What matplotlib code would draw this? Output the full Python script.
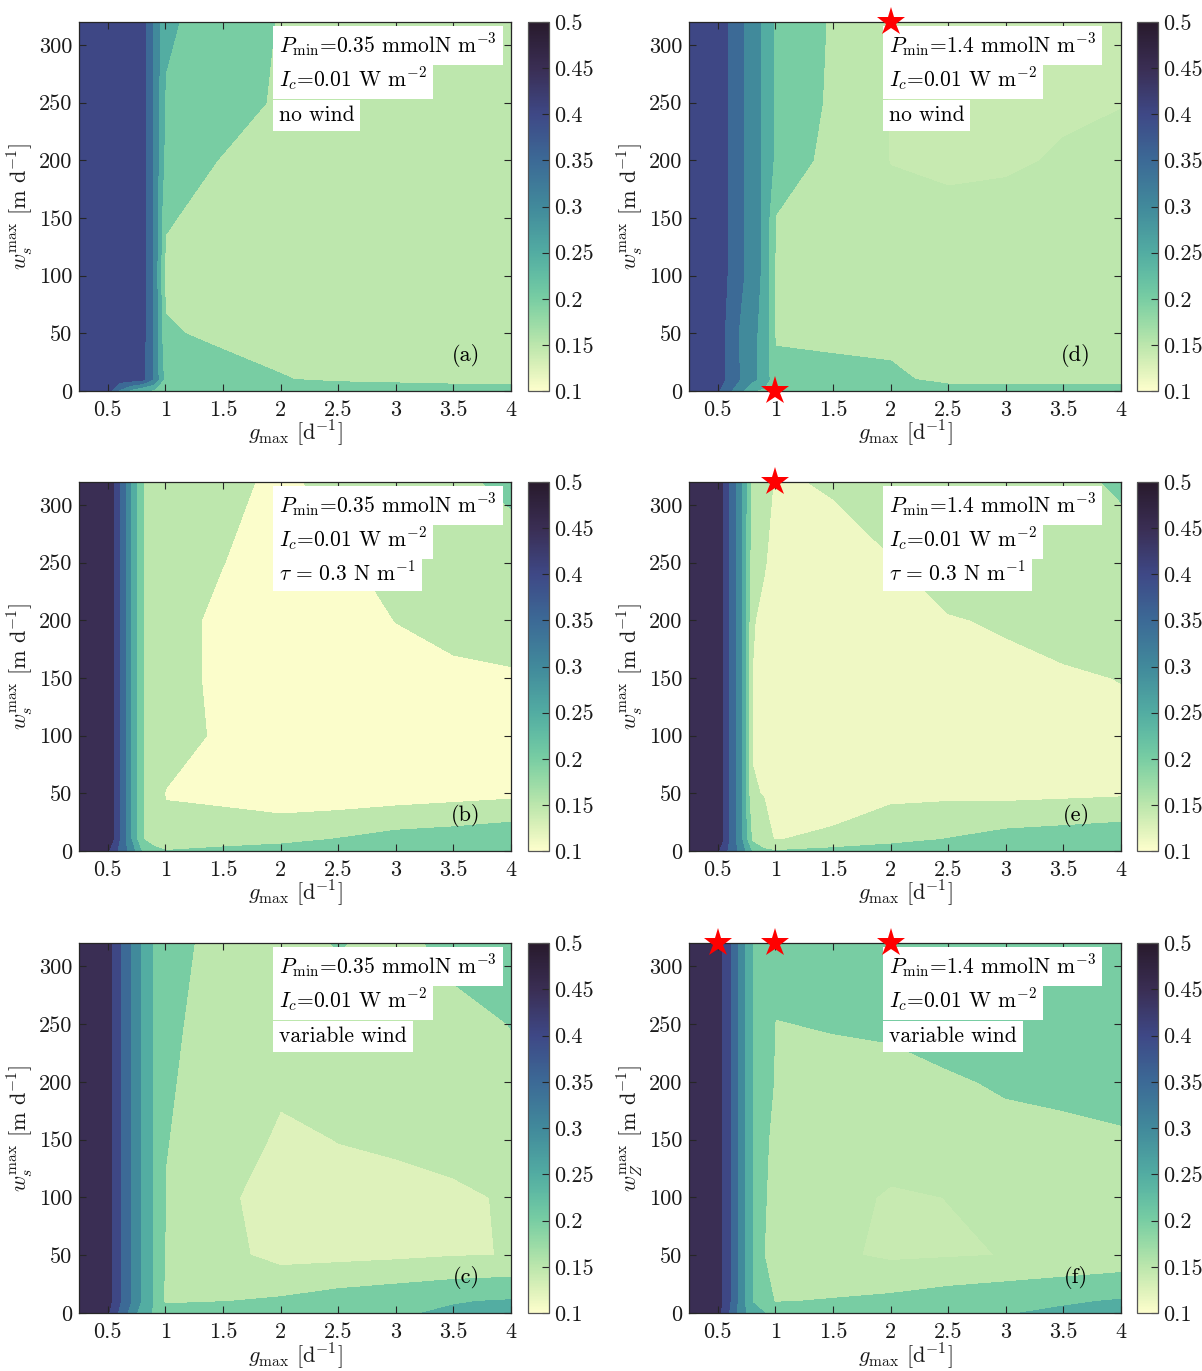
import numpy as np
import matplotlib
matplotlib.use("Agg")
import matplotlib.pyplot as plt
from matplotlib.colors import LinearSegmentedColormap, Normalize
from matplotlib.cm import ScalarMappable

plt.rcParams["font.family"] = ["cmr10", "DejaVu Serif"]
plt.rcParams["mathtext.fontset"] = "cm"
plt.rcParams["axes.formatter.use_mathtext"] = True

# ---- grid of the parameter sweep ----
g_max = [0.25, 0.5, 0.6, 0.7, 0.8, 0.9, 1.0, 1.5, 2.0, 2.5, 3.0, 3.5, 4.0]
w_max = [0, 10, 50, 100, 150, 200, 250, 320]

# rows follow w_max, columns follow g_max
Z_a = [
    [0.43, 0.415, 0.34, 0.28, 0.245, 0.24, 0.24, 0.24, 0.24, 0.24, 0.24, 0.24, 0.24],
    [0.42, 0.42, 0.42, 0.42, 0.41, 0.34, 0.23, 0.222, 0.203, 0.19, 0.183, 0.173, 0.173],
    [0.42, 0.42, 0.42, 0.42, 0.42, 0.34, 0.206, 0.188, 0.18, 0.175, 0.175, 0.17, 0.17],
    [0.42, 0.42, 0.42, 0.42, 0.42, 0.34, 0.188, 0.18, 0.175, 0.175, 0.175, 0.17, 0.17],
    [0.42, 0.42, 0.42, 0.42, 0.42, 0.34, 0.205, 0.18, 0.175, 0.175, 0.175, 0.17, 0.17],
    [0.42, 0.42, 0.42, 0.42, 0.42, 0.34, 0.235, 0.196, 0.18, 0.175, 0.175, 0.17, 0.17],
    [0.42, 0.42, 0.42, 0.42, 0.42, 0.34, 0.2443, 0.23, 0.19, 0.18, 0.175, 0.175, 0.175],
    [0.42, 0.42, 0.42, 0.42, 0.42, 0.34, 0.26, 0.218, 0.198, 0.185, 0.18, 0.18, 0.18],
]
Z_b = [
    [0.49, 0.455, 0.385, 0.33, 0.24, 0.21, 0.202, 0.215, 0.22, 0.23, 0.235, 0.24, 0.245],
    [0.49, 0.493, 0.399, 0.301, 0.202, 0.185, 0.161, 0.172, 0.187, 0.202, 0.219, 0.226, 0.2375],
    [0.49, 0.493, 0.399, 0.301, 0.202, 0.185, 0.148, 0.1406, 0.12, 0.119, 0.124, 0.131, 0.1375],
    [0.49, 0.493, 0.399, 0.301, 0.202, 0.185, 0.175, 0.14, 0.108, 0.11, 0.115, 0.125, 0.13],
    [0.49, 0.493, 0.399, 0.301, 0.202, 0.185, 0.175, 0.135, 0.103, 0.11, 0.125, 0.14, 0.145],
    [0.49, 0.493, 0.399, 0.301, 0.202, 0.185, 0.175, 0.135, 0.11, 0.12, 0.151, 0.165, 0.17],
    [0.49, 0.493, 0.399, 0.301, 0.202, 0.185, 0.175, 0.151, 0.12, 0.14, 0.17, 0.18, 0.18],
    [0.49, 0.493, 0.399, 0.301, 0.202, 0.185, 0.175, 0.17, 0.134, 0.174, 0.18, 0.19, 0.21],
]
Z_c = [
    [0.48, 0.455, 0.39, 0.33, 0.27, 0.245, 0.24, 0.24, 0.24, 0.243, 0.245, 0.2558, 0.265],
    [0.48, 0.47, 0.405, 0.349, 0.29, 0.245, 0.19, 0.199, 0.2074, 0.2243, 0.2357, 0.2475, 0.2538],
    [0.48, 0.47, 0.405, 0.349, 0.29, 0.245, 0.198, 0.165, 0.1333, 0.1358, 0.1405, 0.1475, 0.151],
    [0.48, 0.47, 0.405, 0.349, 0.29, 0.245, 0.199, 0.16, 0.125, 0.135, 0.14, 0.145, 0.153],
    [0.48, 0.47, 0.405, 0.349, 0.29, 0.245, 0.201, 0.185, 0.14, 0.151, 0.155, 0.16, 0.165],
    [0.48, 0.47, 0.405, 0.349, 0.29, 0.245, 0.203, 0.187, 0.16, 0.17, 0.175, 0.18, 0.19],
    [0.48, 0.47, 0.405, 0.349, 0.29, 0.245, 0.21, 0.178, 0.17, 0.175, 0.18, 0.185, 0.201],
    [0.48, 0.47, 0.405, 0.349, 0.29, 0.245, 0.22, 0.18, 0.18, 0.203, 0.185, 0.215, 0.23],
]
Z_d = [
    [0.43, 0.405, 0.355, 0.31, 0.252, 0.24, 0.235, 0.235, 0.235, 0.235, 0.235, 0.235, 0.235],
    [0.43, 0.42, 0.385, 0.345, 0.31, 0.28, 0.213, 0.219, 0.217, 0.177, 0.177, 0.177, 0.177],
    [0.43, 0.42, 0.385, 0.34, 0.31, 0.285, 0.195, 0.185, 0.175, 0.17, 0.168, 0.168, 0.168],
    [0.43, 0.42, 0.395, 0.36, 0.32, 0.29, 0.196, 0.18, 0.17, 0.165, 0.163, 0.163, 0.165],
    [0.43, 0.42, 0.395, 0.36, 0.32, 0.29, 0.198, 0.178, 0.16, 0.155, 0.157, 0.16, 0.163],
    [0.43, 0.42, 0.395, 0.36, 0.32, 0.29, 0.24, 0.179, 0.149, 0.146, 0.147, 0.152, 0.158],
    [0.43, 0.42, 0.395, 0.36, 0.32, 0.29, 0.24, 0.191, 0.148, 0.144, 0.144, 0.147, 0.149],
    [0.43, 0.42, 0.395, 0.36, 0.32, 0.29, 0.24, 0.1945, 0.146, 0.142, 0.142, 0.143, 0.144],
]
Z_e = [
    [0.49, 0.455, 0.385, 0.33, 0.24, 0.21, 0.202, 0.215, 0.22, 0.23, 0.235, 0.24, 0.245],
    [0.49, 0.49, 0.395, 0.31, 0.19, 0.16, 0.148, 0.162, 0.187, 0.2016, 0.2188, 0.226, 0.234],
    [0.49, 0.49, 0.395, 0.31, 0.152, 0.149, 0.125, 0.12, 0.1377, 0.139, 0.1354, 0.139, 0.143],
    [0.49, 0.49, 0.395, 0.31, 0.148, 0.115, 0.112, 0.115, 0.118, 0.12, 0.125, 0.13, 0.14],
    [0.49, 0.49, 0.395, 0.31, 0.149, 0.115, 0.112, 0.115, 0.12, 0.13, 0.143, 0.145, 0.151],
    [0.49, 0.49, 0.395, 0.31, 0.155, 0.135, 0.115, 0.12, 0.135, 0.148, 0.153, 0.165, 0.17],
    [0.49, 0.49, 0.395, 0.31, 0.17, 0.155, 0.13, 0.135, 0.148, 0.165, 0.175, 0.18, 0.185],
    [0.49, 0.49, 0.395, 0.31, 0.18, 0.17, 0.145, 0.154, 0.17, 0.18, 0.185, 0.19, 0.205],
]
Z_f = [
    [0.49, 0.465, 0.395, 0.32, 0.27, 0.252, 0.23, 0.235, 0.24, 0.243, 0.247, 0.2587, 0.265],
    [0.49, 0.475, 0.405, 0.325, 0.248, 0.215, 0.198, 0.203, 0.212, 0.226, 0.236, 0.2442, 0.2543],
    [0.49, 0.475, 0.405, 0.325, 0.248, 0.2005, 0.18, 0.158, 0.142, 0.146, 0.151, 0.16, 0.1674],
    [0.49, 0.475, 0.405, 0.325, 0.248, 0.204, 0.185, 0.165, 0.145, 0.1505, 0.165, 0.175, 0.18],
    [0.49, 0.475, 0.405, 0.325, 0.248, 0.207, 0.19, 0.18, 0.17, 0.18, 0.19, 0.19, 0.195],
    [0.49, 0.475, 0.405, 0.325, 0.248, 0.21, 0.198, 0.19, 0.19, 0.196, 0.204, 0.21, 0.215],
    [0.49, 0.475, 0.405, 0.325, 0.248, 0.215, 0.199, 0.202, 0.205, 0.215, 0.22, 0.225, 0.23],
    [0.49, 0.475, 0.405, 0.325, 0.248, 0.22, 0.215, 0.215, 0.22, 0.225, 0.23, 0.235, 0.24],
]

# optimal (g_max, w_max) combinations marked with stars
star_d_g, star_d_w = [2.0, 1.0], [320, 0]
star_e_g, star_e_w = [1.0], [320]
star_f_g, star_f_w = [0.5, 1.0, 2.0], [320, 320, 320]

contour_levels = [0.15, 0.20, 0.25, 0.30, 0.35, 0.40, 0.45]
cbar_ticks = [0.1, 0.15, 0.2, 0.25, 0.3, 0.35, 0.4, 0.45, 0.5]
cbar_ticklabels = ["0.1", "0.15", "0.2", "0.25", "0.3", "0.35", "0.4", "0.45", "0.5"]
x_ticks = [0.5, 1, 1.5, 2, 2.5, 3, 3.5, 4]
x_ticklabels = ["0.5", "1", "1.5", "2", "2.5", "3", "3.5", "4"]
y_ticks = [0, 50, 100, 150, 200, 250, 300]
y_ticklabels = ["0", "50", "100", "150", "200", "250", "300"]

# deep-ocean style colormap, light (low) to dark (high)
cmap_vals = [0.100, 0.125, 0.150, 0.175, 0.200, 0.225, 0.250, 0.300, 0.350, 0.400, 0.450, 0.500]
cmap_rgb = [(253, 254, 204), (220, 241, 186), (187, 230, 172), (152, 218, 166),
            (120, 205, 163), (99, 189, 163), (82, 172, 162), (65, 137, 155),
            (60, 106, 150), (62, 72, 134), (58, 46, 84), (40, 26, 44)]
vmin, vmax = 0.1, 0.5
cmap = LinearSegmentedColormap.from_list(
    "deep", [((v - vmin) / (vmax - vmin), tuple(c / 255 for c in rgb))
             for v, rgb in zip(cmap_vals, cmap_rgb)], N=256)
norm = Normalize(vmin=vmin, vmax=vmax)

W, H = 1202, 1371
fig = plt.figure(figsize=(W / 100, H / 100), dpi=100)

row_top = [22, 482, 943]
row_bot = [391, 851, 1313]
col_left = [79, 689]
col_right = [511, 1121]
cbar_left = [528, 1137]
cbar_w = 21

tau_txt = r"$\tau\,=\,0.3$ N m$^{-1}$"
panels = [
    ("(a)", Z_a, 0, 0, "0.35", "no wind", [], [], r"$w_s^{\rm max}$ [m d$^{-1}$]"),
    ("(b)", Z_b, 1, 0, "0.35", tau_txt, [], [], r"$w_s^{\rm max}$ [m d$^{-1}$]"),
    ("(c)", Z_c, 2, 0, "0.35", "variable wind", [], [], r"$w_s^{\rm max}$ [m d$^{-1}$]"),
    ("(d)", Z_d, 0, 1, "1.4", "no wind", star_d_g, star_d_w, r"$w_s^{\rm max}$ [m d$^{-1}$]"),
    ("(e)", Z_e, 1, 1, "1.4", tau_txt, star_e_g, star_e_w, r"$w_s^{\rm max}$ [m d$^{-1}$]"),
    ("(f)", Z_f, 2, 1, "1.4", "variable wind", star_f_g, star_f_w, r"$w_Z^{\rm max}$ [m d$^{-1}$]"),
]

spine_col = "#262626"
fs = 16
fs_box = 15.5

for tag, Z, r, c, pmin, third, sg, sw, ylab in panels:
    Z = np.array(Z)
    x0, x1 = col_left[c], col_right[c]
    y0, y1 = row_top[r], row_bot[r]
    ax = fig.add_axes([x0 / W, 1 - y1 / H, (x1 - x0) / W, (y1 - y0) / H])

    # region under the lowest level takes the colour of the field minimum
    zmin = Z.min()
    levels = [0.0] + contour_levels + [0.5]
    colors = [cmap(norm(max(zmin, 0.1)))] + [cmap(norm(l)) for l in contour_levels]
    ax.contourf(g_max, w_max, Z, levels=levels, colors=colors, antialiased=False)

    ax.set_xlim(0.25, 4)
    ax.set_ylim(0, 320)
    ax.set_xticks(x_ticks)
    ax.set_xticklabels(x_ticklabels)
    ax.set_yticks(y_ticks)
    ax.set_yticklabels(y_ticklabels)
    ax.tick_params(direction="in", top=True, right=True, length=5, width=0.8,
                   color=spine_col, labelsize=fs, labelcolor="#1a1a1a")
    ax.tick_params(axis="x", pad=7)
    ax.tick_params(axis="y", pad=5)
    for sp in ax.spines.values():
        sp.set_color(spine_col)
        sp.set_linewidth(0.9)
        sp.set_zorder(5)

    ax.set_xlabel(r"$g_{\rm max}$ [d$^{-1}$]", fontsize=fs, color="#1a1a1a")
    ax.xaxis.set_label_coords(0.5, -0.075)
    ax.set_ylabel(ylab, fontsize=fs, color="#1a1a1a")
    ax.yaxis.set_label_coords(-0.102, 0.5)

    box = dict(boxstyle="square,pad=0.27", fc="white", ec="none")
    ax.text(0.463, 0.916, r"$P_{\rm min}$=" + pmin + r" mmolN m$^{-3}$",
            transform=ax.transAxes, fontsize=fs_box, ha="left", va="baseline", bbox=box, zorder=6)
    ax.text(0.463, 0.824, r"$I_c$=0.01 W m$^{-2}$",
            transform=ax.transAxes, fontsize=fs_box, ha="left", va="baseline", bbox=box, zorder=6)
    ax.text(0.463, 0.732, third,
            transform=ax.transAxes, fontsize=fs_box, ha="left", va="baseline", bbox=box, zorder=6)
    ax.text(0.896, 0.095, tag, transform=ax.transAxes, fontsize=fs,
            ha="center", va="center", zorder=6)

    if sg:
        ax.plot(sg, sw, linestyle="none", marker="*", markersize=21, color="red",
                markeredgewidth=0, clip_on=False, zorder=10)

    cax = fig.add_axes([cbar_left[c] / W, 1 - y1 / H, cbar_w / W, (y1 - y0) / H])
    cb = fig.colorbar(ScalarMappable(norm=norm, cmap=cmap), cax=cax, ticks=cbar_ticks)
    cb.set_ticklabels(cbar_ticklabels)
    cb.outline.set_edgecolor("#555555")
    cb.outline.set_linewidth(0.9)
    cax.tick_params(direction="in", length=5, width=0.8, color=spine_col,
                    labelsize=fs, labelcolor="#1a1a1a", pad=4)

fig.savefig("out.png", dpi=100, facecolor="white")
